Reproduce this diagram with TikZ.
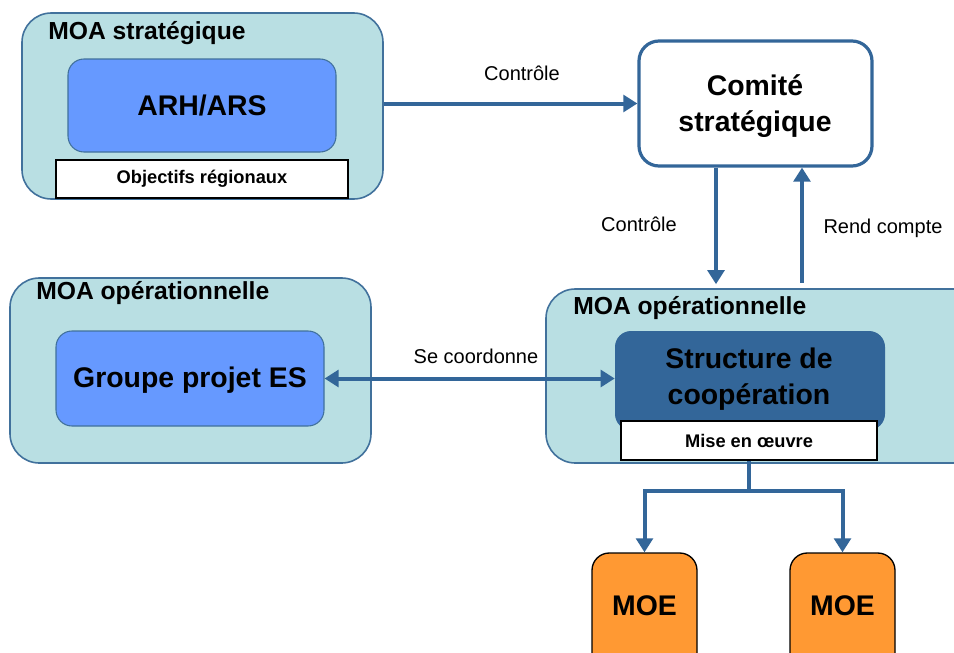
\documentclass[tikz,border=0pt]{standalone}
\usepackage{fontspec}
\setmainfont{Liberation Sans}
\usetikzlibrary{arrows.meta,fit}
\definecolor{moafill}{HTML}{B9DFE3}
\definecolor{moaline}{HTML}{41719C}
\definecolor{arhfill}{HTML}{6699FF}
\definecolor{strfill}{HTML}{336699}
\definecolor{arrc}{HTML}{336699}
\definecolor{moefill}{HTML}{FF9933}
\begin{document}
\begin{tikzpicture}[x=0.75pt,y=-0.75pt,
  moabox/.style={fill=moafill,draw=moaline,line width=1.2pt,rounded corners=22pt,inner sep=0pt},
  arhbox/.style={fill=arhfill,draw=moaline,line width=0.8pt,rounded corners=12pt,inner sep=0pt},
  strbox/.style={fill=strfill,draw=none,rounded corners=12pt,inner sep=0pt},
  whitebox/.style={fill=white,draw=black,line width=0.8pt,inner sep=0pt},
  combox/.style={fill=white,draw=arrc,line width=2.4pt,rounded corners=15pt,inner sep=0pt},
  moebox/.style={fill=moefill,draw=black,line width=1pt,rounded corners=13pt,inner sep=0pt},
  ttl/.style={font=\fontsize{18.5}{22}\selectfont\bfseries,inner sep=0pt,anchor=west},
  big/.style={font=\fontsize{21.3}{26.5}\selectfont\bfseries,align=center,inner sep=0pt},
  small/.style={font=\fontsize{13.7}{16}\selectfont\bfseries,inner sep=0pt},
  lbl/.style={font=\fontsize{15}{18}\selectfont,inner sep=0pt},
  conn/.style={draw=arrc,line width=3pt},
  arr/.style={conn,-{Triangle[width=12.5pt,length=10.5pt]}},
  darr/.style={conn,{Triangle[width=12.5pt,length=10.5pt]}-{Triangle[width=12.5pt,length=10.5pt]}}
]
\useasboundingbox (0,0) rectangle (954,653);
\clip (0,0) rectangle (954,653);
\fill[white] (0,0) rectangle (954,653);

% MOA strategique
\node[moabox,fit={(22,13) (383,199)}] (moa1) {};
\node[ttl] (t1) at (48,33) {MOA stratégique};
\node[arhbox,fit={(68,59) (336,152)}] (arh) {};
\node[big] (arht) at (arh.center) {ARH/ARS};
\node[whitebox,fit={(56,160) (348,198)}] (obj) {};
\node[small] (objt) at (obj.center) {Objectifs régionaux};

% Comite
\node[combox,fit={(639,41) (872,166)}] (com) {};
\node[big] (comt) at (755,106) {Comité\\stratégique};

% MOA operationnelle left
\node[moabox,fit={(10,278) (371,463)}] (moa2) {};
\node[ttl] (t2) at (36,293) {MOA opérationnelle};
\node[arhbox,fit={(56,331) (324,426)}] (grp) {};
\node[big] (grpt) at (190,380) {Groupe projet ES};

% MOA operationnelle right
\node[moabox,fit={(546,289) (990,463)}] (moa3) {};
\node[ttl] (t3) at (573,308) {MOA opérationnelle};
\node[strbox,fit={(615,331) (885,430)}] (str) {};
\node[big] (strt) at (749,379) {Structure de\\coopération};
\node[whitebox,fit={(621,421) (877,460)}] (mise) {};
\node[small] (miset) at (mise.center) {Mise en œuvre};

% MOE
\node[moebox,fit={(592,553) (697,690)}] (moe1) {};
\node[big] (moe1t) at (644.5,606) {MOE};
\node[moebox,fit={(790,553) (895,690)}] (moe2) {};
\node[big] (moe2t) at (842.5,606) {MOE};

% connectors
\coordinate (xd) at (716,0);
\coordinate (xu) at (802,0);
\draw[arr] (moa1.east |- com.west) -- (com.west);
\node[lbl] (l1) at (522,73) {Contrôle};
\draw[arr] (com.south -| xd) -- ([yshift=3pt]moa3.north -| xd);
\node[lbl] (l2) at (639,224) {Contrôle};
\draw[arr] ([yshift=4pt]moa3.north -| xu) -- (com.south -| xu);
\node[lbl] (l3) at (883,228) {Rend compte};
\draw[darr] (grp.east) -- (grp.east -| str.west);
\node[lbl] (l4) at (476,356) {Se coordonne};
\draw[conn] (mise.south) -- ++(0,30) coordinate (fork);
\draw[arr] (fork) -| (moe1.north);
\draw[arr] (fork) -| (moe2.north);
\end{tikzpicture}
\end{document}
